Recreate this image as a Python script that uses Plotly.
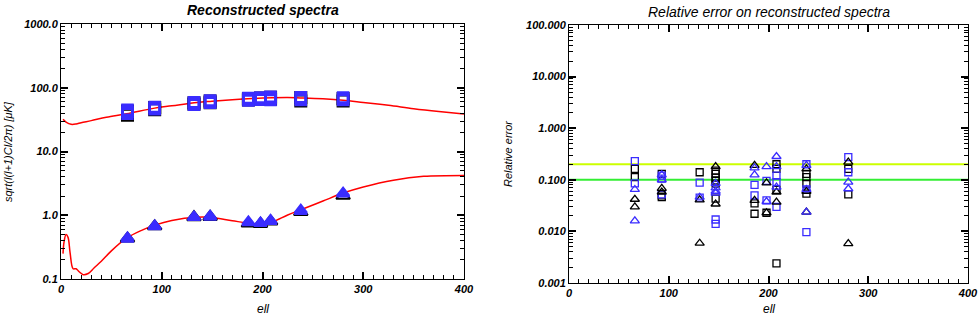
import plotly.graph_objects as go

# ---------------- data ----------------
# theory curves (left panel)
tt_ell = [2, 5, 10, 15, 20, 30, 45, 65, 93, 110, 135, 150, 170, 190, 210, 225, 240, 260, 280, 300, 325, 350, 375, 400]
tt_val = [32, 29, 26.7, 27, 28.3, 30.5, 34.5, 39, 47.9, 52, 58.8, 61.5, 65, 67.8, 69.5, 70, 69, 67, 63.7, 58.8, 53, 47, 42.5, 38.9]

ee_ell = [2, 3, 5, 7, 9, 12, 15, 18, 22, 27, 33, 40, 50, 65, 80, 93, 110, 135, 150, 170, 190, 200, 210, 225, 240, 260, 280, 300, 330, 360, 400]
ee_val = [0.25, 0.38, 0.5, 0.45, 0.26, 0.145, 0.145, 0.13, 0.117, 0.122, 0.15, 0.19, 0.276, 0.436, 0.58, 0.70, 0.83, 0.93, 0.92, 0.82,
          0.74, 0.735, 0.79, 1.01, 1.25, 1.67, 2.23, 2.78, 3.55, 4.08, 4.22]

# reconstructed band powers (left panel)
tt_blk_ell = [66, 66, 93, 93, 132, 132, 148, 148, 186, 186, 198, 198, 208, 208, 238, 238, 280, 280]
tt_blk_val = [37, 43, 45, 49, 55, 58, 58, 62, 64, 67, 66, 69, 66, 71, 62, 70, 62, 68]
tt_blu_ell = [66, 66, 66, 93, 93, 93, 132, 132, 132, 148, 148, 148, 186, 186, 186, 198, 198, 198, 208, 208, 208, 238, 238, 238, 280, 280, 280]
tt_blu_val = [39, 42, 45, 46, 48, 50, 54, 56, 59, 58, 60, 63, 63, 66, 69, 65, 68, 70, 64, 69, 72, 64, 67, 71, 64, 67, 70]

ee_blk_ell = [66, 93, 132, 148, 186, 198, 208, 238, 280]
ee_blk_val = [0.43, 0.67, 0.93, 0.94, 0.74, 0.73, 0.80, 1.12, 2.02]
ee_blu_ell = [66, 66, 93, 93, 132, 132, 148, 148, 186, 186, 198, 198, 208, 208, 238, 238, 280, 280]
ee_blu_val = [0.42, 0.45, 0.66, 0.69, 0.92, 0.96, 0.93, 0.98, 0.76, 0.80, 0.74, 0.77, 0.80, 0.84, 1.15, 1.22, 2.15, 2.25]

# relative errors (right panel)
sq_blk_ell = [66, 66, 93, 93, 93, 131, 147, 147, 147, 147, 147, 147, 186, 186, 198, 208, 208, 208, 208, 238, 238, 238, 238, 280, 280]
sq_blk_val = [0.163, 0.113, 0.13, 0.05, 0.046, 0.14, 0.15, 0.13, 0.11, 0.097, 0.084, 0.043, 0.035, 0.022, 0.023,
              0.2, 0.163, 0.064, 0.0024, 0.13, 0.113, 0.084, 0.054, 0.163, 0.052]
sq_blu_ell = [66, 66, 93, 93, 93, 131, 131, 147, 147, 186, 186, 198, 198, 208, 208, 208, 238, 238, 238, 280, 280]
sq_blu_val = [0.23, 0.085, 0.12, 0.105, 0.052, 0.088, 0.045, 0.017, 0.014, 0.08, 0.05, 0.095, 0.04,
              0.12, 0.09, 0.03, 0.2, 0.065, 0.0097, 0.275, 0.14]
tr_blk_ell = [66, 66, 93, 93, 131, 131, 147, 147, 186, 186, 198, 198, 208, 208, 238, 238, 238, 280, 280]
tr_blk_val = [0.042, 0.03, 0.068, 0.058, 0.041, 0.0059, 0.18, 0.034, 0.19, 0.04, 0.087, 0.023, 0.058, 0.037,
              0.163, 0.06, 0.0237, 0.22, 0.0058]
tr_blu_ell = [66, 66, 93, 93, 131, 147, 147, 147, 147, 186, 186, 198, 198, 208, 208, 208, 238, 238, 238, 280, 280]
tr_blu_val = [0.065, 0.016, 0.125, 0.1, 0.046, 0.085, 0.07, 0.06, 0.055, 0.17, 0.125, 0.18, 0.038,
              0.283, 0.18, 0.072, 0.19, 0.065, 0.0237, 0.09, 0.067]

ref_lines = [0.2, 0.1]
ref_colors = ["#ccff00", "#33ee33"]

left_yticks = [0.1, 1, 10, 100, 1000]
left_ytext = ["0.1", "1.0", "10.0", "100.0", "1000.0"]
right_yticks = [0.001, 0.01, 0.1, 1, 10, 100]
right_ytext = ["0.001", "0.010", "0.100", "1.000", "10.000", "100.000"]
xticks = [0, 100, 200, 300, 400]
xtext = ["0", "100", "200", "300", "400"]

BLUE = "#3a2cff"
FONT = "Liberation Sans"

fig = go.Figure()

# left panel
fig.add_trace(go.Scatter(x=tt_ell, y=tt_val, mode="lines", line=dict(color="red", width=1.5, shape="spline"),
                         xaxis="x", yaxis="y", showlegend=False))
fig.add_trace(go.Scatter(x=ee_ell, y=ee_val, mode="lines", line=dict(color="red", width=1.5, shape="spline"),
                         xaxis="x", yaxis="y", showlegend=False))
fig.add_trace(go.Scatter(x=tt_blk_ell, y=tt_blk_val, mode="markers",
                         marker=dict(symbol="square-open", size=11, color="black", line=dict(width=2)),
                         xaxis="x", yaxis="y", showlegend=False))
fig.add_trace(go.Scatter(x=tt_blu_ell, y=tt_blu_val, mode="markers",
                         marker=dict(symbol="square-open", size=10, color=BLUE, line=dict(width=2.5)),
                         xaxis="x", yaxis="y", showlegend=False))
fig.add_trace(go.Scatter(x=ee_blk_ell, y=ee_blk_val, mode="markers",
                         marker=dict(symbol="triangle-up-open", size=12, color="black", line=dict(width=2)),
                         xaxis="x", yaxis="y", showlegend=False))
fig.add_trace(go.Scatter(x=ee_blu_ell, y=ee_blu_val, mode="markers",
                         marker=dict(symbol="triangle-up", size=11, color=BLUE, line=dict(width=1.5, color=BLUE)),
                         xaxis="x", yaxis="y", showlegend=False))

# right panel
for v, c in zip(ref_lines, ref_colors):
    fig.add_trace(go.Scatter(x=[0, 400], y=[v, v], mode="lines", line=dict(color=c, width=2),
                             xaxis="x2", yaxis="y2", showlegend=False))
fig.add_trace(go.Scatter(x=sq_blk_ell, y=sq_blk_val, mode="markers",
                         marker=dict(symbol="square-open", size=7, color="black", line=dict(width=1.3)),
                         xaxis="x2", yaxis="y2", showlegend=False))
fig.add_trace(go.Scatter(x=sq_blu_ell, y=sq_blu_val, mode="markers",
                         marker=dict(symbol="square-open", size=7, color=BLUE, line=dict(width=1.3)),
                         xaxis="x2", yaxis="y2", showlegend=False))
fig.add_trace(go.Scatter(x=tr_blk_ell, y=tr_blk_val, mode="markers",
                         marker=dict(symbol="triangle-up-open", size=8, color="black", line=dict(width=1.3)),
                         xaxis="x2", yaxis="y2", showlegend=False))
fig.add_trace(go.Scatter(x=tr_blu_ell, y=tr_blu_val, mode="markers",
                         marker=dict(symbol="triangle-up-open", size=8, color=BLUE, line=dict(width=1.3)),
                         xaxis="x2", yaxis="y2", showlegend=False))

W, H = 978, 317
ML, MR, MT, MB = 6, 4, 6, 6
PW, PH = W - ML - MR, H - MT - MB


def px(x):
    return (x - ML) / PW


def py(y):
    return (H - MB - y) / PH


tickfont = dict(family=FONT, size=11, color="black")


def bi(t):
    return "<b><i>" + t + "</i></b>"


def xaxis(x0, x1, anchor):
    return dict(domain=[px(x0), px(x1)], anchor=anchor, range=[0, 400], tickvals=xticks,
                ticktext=[bi(t) for t in xtext],
                showline=True, linecolor="black", mirror="allticks", ticks="inside", ticklen=7,
                tickcolor="black", tickwidth=1.5, gridcolor="rgba(0,0,0,0)", tickfont=tickfont,
                ticklabeloverflow="allow",
                minor=dict(ticks="inside", ticklen=4, dtick=10, tickcolor="black", tickwidth=1))


def yaxis(y0, y1, anchor, rng, vals, text):
    return dict(domain=[py(y1), py(y0)], anchor=anchor, type="log", range=rng, tickvals=vals,
                ticktext=[bi(t) for t in text],
                showline=True, linecolor="black", mirror="allticks", ticks="inside", ticklen=7,
                tickcolor="black", tickwidth=1.5, gridcolor="rgba(0,0,0,0)", tickfont=tickfont,
                minor=dict(ticks="inside", ticklen=4, dtick="D1", tickcolor="black", tickwidth=1))


fig.update_layout(
    width=W, height=H, margin=dict(l=ML, r=MR, t=MT, b=MB, autoexpand=False),
    paper_bgcolor="white", plot_bgcolor="white",
    xaxis=xaxis(61, 464, "y"),
    yaxis=yaxis(24, 279, "x", [-1, 3], left_yticks, left_ytext),
    xaxis2=xaxis(569, 968, "y2"),
    yaxis2=yaxis(25, 283, "x2", [-3, 2], right_yticks, right_ytext),
)


def ann(text, x, y, size, angle=0):
    fig.add_annotation(text=text, x=px(x), y=py(y), xref="paper", yref="paper", showarrow=False,
                       textangle=angle, xanchor="center", yanchor="middle",
                       font=dict(family=FONT, size=size, color="black"))


ann("<b><i>Reconstructed spectra</i></b>", 263, 10, 14)
ann("<i>Relative error on reconstructed spectra</i>", 769, 12, 14)
ann("<i>ell</i>", 263, 309, 12)
ann("<i>ell</i>", 769, 309, 12)
ann("<i>sqrt(l(l+1)Cl/2\u03c0) [\u03bcK]</i>", 8, 152, 11, angle=-90)
ann("<i>Relative error</i>", 508, 154, 11, angle=-90)

fig.write_html("out.html", config={"displayModeBar": False},
               post_script="document.body.style.margin='0px';document.body.style.overflow='hidden';")
